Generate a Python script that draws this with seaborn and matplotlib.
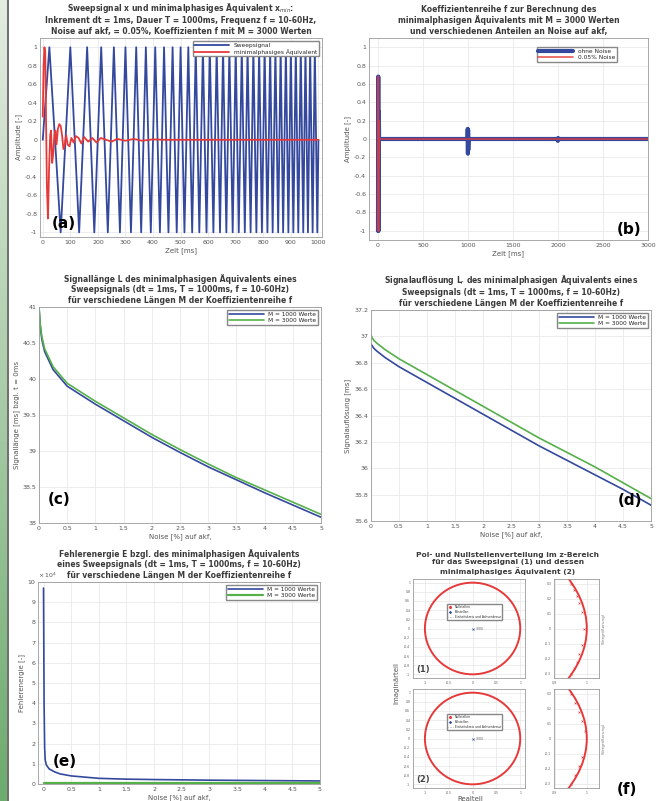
import matplotlib
matplotlib.use("Agg")
import numpy as np
import matplotlib.pyplot as plt
import matplotlib.patches as mpatches
from matplotlib.lines import Line2D
from matplotlib.ticker import FuncFormatter, MultipleLocator
import seaborn as sns

# (a) Sweepsignal: Zeitpunkte der Extrema und Amplituden
sweep_t = [0,
           24, 65, 100, 132, 161, 187, 212, 236, 258, 280,
           300, 320, 339, 357, 374, 392, 408, 425, 440, 456,
           471, 486, 500, 514, 528, 542, 555, 568, 581, 594,
           606, 619, 631, 643, 654, 666, 677, 689, 700, 711,
           722, 733, 743, 754, 764, 775, 785, 795, 805, 815,
           825, 834, 844, 854, 863, 872, 882, 891, 900, 909,
           918, 927, 936, 945, 953, 962, 970, 979, 987, 996,
           1000]
sweep_amp = [0] + [1, -1] * 35 + [0]

# (a) minimalphasiges Aequivalent
minph_t = [0, 3, 6, 9, 12, 15, 19, 23, 27, 30, 34, 38, 42, 46, 50, 55, 60, 65,
           70, 75, 80, 85, 90, 97, 104, 112, 120, 130, 140, 150, 165, 180, 195,
           210, 230, 250, 270, 300, 330, 360, 400, 450, 1000]
minph_amp = [0.25, 0.8, 1.0, 0.95, 0.2, -0.5, -0.85, -0.3, 0.05, 0.1, -0.25, -0.15,
             0.05, 0.1, -0.05, 0.12, 0.17, 0.15, 0.05, -0.1, -0.05, 0.05, -0.05,
             -0.07, 0.02, -0.03, 0.04, 0.02, -0.04, 0.03, -0.02, 0.02, -0.03, 0.02,
             0.0, -0.02, 0.01, -0.01, 0.01, -0.01, 0.005, 0.0, 0.0]

# (b) Koeffizientenreihe f
coef_t_blue = [0, 3, 6, 9, 12, 995, 997, 999, 1001, 1003, 1006, 1995, 1998, 2001, 2004, 3000]
coef_blue = [-1.0, 0.68, -1.0, 0.3, 0.0, 0.0, 0.11, -0.16, 0.1, -0.12, 0.0, 0.0, -0.02, 0.01, 0.0, 0.0]
coef_t_red = [0, 3, 6, 9, 12, 15, 3000]
coef_red = [-1.0, 0.68, -1.0, 0.2, -0.3, 0.0, 0.0]

# (c), (d) Signallaenge und Signalaufloesung
noise = [0, 0.02, 0.05, 0.1, 0.25, 0.5, 1, 1.5, 2, 2.5, 3, 3.5, 4, 4.5, 5]
L_1000 = [41.0, 40.75, 40.55, 40.38, 40.13, 39.9, 39.65, 39.42, 39.19, 38.98, 38.78, 38.6, 38.42, 38.25, 38.08]
L_3000 = [41.0, 40.78, 40.59, 40.42, 40.17, 39.94, 39.69, 39.46, 39.23, 39.02, 38.82, 38.63, 38.46, 38.29, 38.12]
Lr_1000 = [36.94, 36.93, 36.91, 36.89, 36.84, 36.77, 36.65, 36.53, 36.41, 36.29, 36.17, 36.06, 35.95, 35.84, 35.72]
Lr_3000 = [37.01, 36.99, 36.97, 36.95, 36.90, 36.83, 36.71, 36.59, 36.47, 36.35, 36.23, 36.12, 36.01, 35.89, 35.77]

# (e) Fehlerenergie (x 10^4)
noise_e = [0, 0.01, 0.02, 0.03, 0.05, 0.1, 0.2, 0.3, 0.5, 1, 1.5, 2, 3, 4, 5]
E_1000 = [9.7, 4.0, 1.8, 1.2, 0.95, 0.75, 0.6, 0.5, 0.4, 0.28, 0.24, 0.22, 0.19, 0.17, 0.15]
E_3000 = [0.04, 0.04, 0.04, 0.04, 0.04, 0.04, 0.04, 0.04, 0.04, 0.04, 0.04, 0.04, 0.04, 0.04, 0.04]

# (f) Nullstellen nahe z = 1 (Ausschnitt)
zero1_re = [0.952, 0.96, 0.968, 0.977, 0.985, 0.99, 0.985, 0.977, 0.968, 0.96, 0.952]
zero1_im = [0.3, 0.26, 0.22, 0.17, 0.11, 0.0, -0.11, -0.17, -0.22, -0.26, -0.3]
zero2_re = [0.95, 0.962, 0.975, 0.986, 0.993, 0.986, 0.975, 0.962, 0.95]
zero2_im = [0.3, 0.24, 0.18, 0.12, 0.05, -0.12, -0.18, -0.24, -0.3]

sns.set_theme(style="whitegrid")
plt.rcParams["font.family"] = ["DejaVu Sans"]

BLUE = "#34499e"
RED = "#e63a3a"
GREEN = "#55b04a"
TXT = "#3a3a3a"

fig = plt.figure(figsize=(6.65, 8.01), dpi=100)
fig.patch.set_facecolor("white")

# gruener Rand links
strip = fig.add_axes([0, 0, 7 / 665, 1])
strip.imshow(np.linspace(0, 1, 100).reshape(-1, 1), aspect="auto",
             cmap=matplotlib.colors.LinearSegmentedColormap.from_list("g", ["#e4ece0", "#6dab6f"]))
strip.set_axis_off()
fig.add_artist(Line2D([7.5 / 665, 7.5 / 665], [0, 1], color="#555555", lw=1.2))


def tick_fmt(v, p):
    v = round(v, 6)
    if v == 0:
        v = 0.0
    return f"{v:g}"


fmt = FuncFormatter(tick_fmt)


def style(ax, fs=4.5):
    ax.grid(True, color="#e6e6e6", lw=0.5)
    for s in ax.spines.values():
        s.set_color("#9a9a9a")
        s.set_linewidth(0.6)
    ax.tick_params(labelsize=fs, colors="#555555", length=2, direction="in", pad=2)
    ax.xaxis.set_major_formatter(fmt)
    ax.yaxis.set_major_formatter(fmt)


def title(ax, text):
    ax.set_title(text, fontsize=5.5, fontweight="bold", color=TXT, pad=3, linespacing=1.2)


def legend(ax, loc="upper right"):
    ax.legend(loc=loc, fontsize=4.2, frameon=True, fancybox=False, edgecolor="#888888",
              handlelength=6, borderpad=0.3, labelspacing=0.2, framealpha=1)


def label(ax, text, x, y, ha="left"):
    ax.text(x, y, text, transform=ax.transAxes, fontsize=11, fontweight="bold",
            ha=ha, va="bottom", color="black")


# (a)
ax = fig.add_axes([40 / 665, 1 - 237 / 801, 282 / 665, 199 / 801])
sns.lineplot(x=sweep_t, y=sweep_amp, ax=ax, color=BLUE, lw=1.3, estimator=None, sort=False, label="Sweepsignal")
sns.lineplot(x=minph_t, y=minph_amp, ax=ax, color=RED, lw=1.3, estimator=None, sort=False,
             label="minimalphasiges Äquivalent")
ax.set_xlim(-10, 1013)
ax.set_ylim(-1.05, 1.1)
ax.xaxis.set_major_locator(MultipleLocator(100))
ax.yaxis.set_major_locator(MultipleLocator(0.2))
style(ax)
ax.set_xlabel("Zeit [ms]", fontsize=5, color="#555555", labelpad=2)
ax.set_ylabel("Amplitude [-]", fontsize=5, color="#555555", labelpad=2)
title(ax, "Sweepsignal x und minimalphasiges Äquivalent x$_{min}$:\n"
          "Inkrement dt = 1ms, Dauer T = 1000ms, Frequenz f = 10-60Hz,\n"
          "Noise auf akf, = 0.05%, Koeffizienten f mit M = 3000 Werten")
legend(ax)
label(ax, "(a)", 0.04, 0.03)

# (b)
ax = fig.add_axes([369 / 665, 1 - 240 / 801, 279 / 665, 202 / 801])
sns.lineplot(x=coef_t_blue, y=coef_blue, ax=ax, color=BLUE, lw=3, estimator=None, sort=False, label="ohne Noise")
sns.lineplot(x=coef_t_red, y=coef_red, ax=ax, color=RED, lw=1.2, alpha=0.85, estimator=None, sort=False,
             label="0.05% Noise")
ax.set_xlim(-100, 3000)
ax.set_ylim(-1.1, 1.1)
ax.xaxis.set_major_locator(MultipleLocator(500))
ax.yaxis.set_major_locator(MultipleLocator(0.2))
style(ax)
ax.set_xlabel("Zeit [ms]", fontsize=5, color="#555555", labelpad=2)
ax.set_ylabel("Amplitude [-]", fontsize=5, color="#555555", labelpad=2)
title(ax, "Koeffizientenreihe f zur Berechnung des\n"
          "minimalphasigen Äquivalents mit M = 3000 Werten\n"
          "und verschiedenen Anteilen an Noise auf akf,")
ax.legend(loc="upper right", bbox_to_anchor=(0.9, 0.97), fontsize=4.2, frameon=True, fancybox=False,
          edgecolor="#888888", handlelength=6, borderpad=0.3, labelspacing=0.2, framealpha=1)
label(ax, "(b)", 0.975, 0.015, ha="right")

# (c)
ax = fig.add_axes([39 / 665, 1 - 523 / 801, 282 / 665, 216 / 801])
sns.lineplot(x=noise, y=L_1000, ax=ax, color=BLUE, lw=1.2, label="M = 1000 Werte")
sns.lineplot(x=noise, y=L_3000, ax=ax, color=GREEN, lw=1.2, label="M = 3000 Werte")
ax.set_xlim(0, 5)
ax.set_ylim(38, 41)
ax.xaxis.set_major_locator(MultipleLocator(0.5))
ax.yaxis.set_major_locator(MultipleLocator(0.5))
style(ax)
ax.set_xlabel("Noise [%] auf akf,", fontsize=5, color="#555555", labelpad=2)
ax.set_ylabel("Signallänge [ms] bzgl. t = 0ms", fontsize=5, color="#555555", labelpad=2)
title(ax, "Signallänge L des minimalphasigen Äquivalents eines\n"
          "Sweepsignals (dt = 1ms, T = 1000ms, f = 10-60Hz)\n"
          "für verschiedene Längen M der Koeffizientenreihe f")
legend(ax)
label(ax, "(c)", 0.03, 0.075)

# (d)
ax = fig.add_axes([371 / 665, 1 - 521 / 801, 280 / 665, 211 / 801])
sns.lineplot(x=noise, y=Lr_1000, ax=ax, color=BLUE, lw=1.2, label="M = 1000 Werte")
sns.lineplot(x=noise, y=Lr_3000, ax=ax, color=GREEN, lw=1.2, label="M = 3000 Werte")
ax.set_xlim(0, 5)
ax.set_ylim(35.6, 37.2)
ax.xaxis.set_major_locator(MultipleLocator(0.5))
ax.yaxis.set_major_locator(MultipleLocator(0.2))
style(ax)
ax.set_xlabel("Noise [%] auf akf,", fontsize=5, color="#555555", labelpad=2)
ax.set_ylabel("Signalauflösung [ms]", fontsize=5, color="#555555", labelpad=2)
title(ax, "Signalauflösung L$_r$ des minimalphasigen Äquivalents eines\n"
          "Sweepsignals (dt = 1ms, T = 1000ms, f = 10-60Hz)\n"
          "für verschiedene Längen M der Koeffizientenreihe f")
legend(ax)
label(ax, "(d)", 0.97, 0.06, ha="right")

# (e)
ax = fig.add_axes([38 / 665, 1 - 784 / 801, 282 / 665, 202 / 801])
sns.lineplot(x=noise_e, y=E_1000, ax=ax, color=BLUE, lw=1.2, label="M = 1000 Werte")
sns.lineplot(x=noise_e, y=E_3000, ax=ax, color=GREEN, lw=1.6, label="M = 3000 Werte")
ax.set_xlim(-0.1, 5)
ax.set_ylim(0, 10)
ax.xaxis.set_major_locator(MultipleLocator(0.5))
ax.yaxis.set_major_locator(MultipleLocator(1))
style(ax)
ax.set_xlabel("Noise [%] auf akf,", fontsize=5, color="#555555", labelpad=2)
ax.set_ylabel("Fehlerenergie [-]", fontsize=5, color="#555555", labelpad=2)
ax.text(0.0, 1.01, r"$\times\,10^4$", transform=ax.transAxes, fontsize=4.5, color="#555555",
        ha="left", va="bottom")
title(ax, "Fehlerenergie E bzgl. des minimalphasigen Äquivalents\n"
          "eines Sweepsignals (dt = 1ms, T = 1000ms, f = 10-60Hz)\n"
          "für verschiedene Längen M der Koeffizientenreihe f")
legend(ax)
label(ax, "(e)", 0.053, 0.075)

# (f) Pol-Nullstellen-Diagramme
fig.text(508 / 665, 1 - 575 / 801, "Pol- und Nullstellenverteilung im z-Bereich\n"
         "für das Sweepsignal (1) und dessen\nminimalphasiges Äquivalent (2)",
         ha="center", va="bottom", fontsize=5.4, fontweight="bold", color=TXT, linespacing=1.25)
fig.text(396 / 665, 1 - 683 / 801, "Imaginärteil", rotation=90, ha="center", va="center",
         fontsize=5, color="#555555")
fig.text(470 / 665, 0.002, "Realteil", ha="center", va="center", fontsize=5, color="#555555")

circle_rows = [(1 - 678 / 801, "(1)", zero1_re, zero1_im), (1 - 788 / 801, "(2)", zero2_re, zero2_im)]
for bottom, tag, zre, zim in circle_rows:
    axc = fig.add_axes([413 / 665, bottom, 112 / 665, 99 / 801])
    axc.add_patch(mpatches.Circle((0, 0), 1, fill=False, ec=RED, lw=1.4))
    sns.scatterplot(x=[0], y=[0], ax=axc, marker="x", color=BLUE, s=3, linewidth=0.4)
    axc.text(0.06, -0.02, "3000", fontsize=2.2, color="#555555", va="center")
    axc.set_xlim(-1.25, 1.1)
    axc.set_ylim(-1.08, 1.08)
    axc.xaxis.set_major_locator(MultipleLocator(0.5))
    axc.yaxis.set_major_locator(MultipleLocator(0.2))
    style(axc, fs=2.2)
    handles = [Line2D([], [], ls="", marker="o", ms=1.2, color=RED),
               Line2D([], [], ls="", marker="x", ms=1.2, color=BLUE),
               Line2D([], [], ls=":", lw=0.4, color="#777777")]
    axc.legend(handles, ["Nullstellen", "Polstellen", "Einheitskreis und Achsenkreuz"],
               loc="center", bbox_to_anchor=(0.55, 0.67), fontsize=2.2, frameon=True, fancybox=False,
               edgecolor="#888888", borderpad=0.4, labelspacing=0.3, framealpha=1, handlelength=1.5)
    axc.text(0.03, 0.04, tag, transform=axc.transAxes, fontsize=6, fontweight="bold",
             color="#444444", va="bottom")

    axz = fig.add_axes([554 / 665, bottom, 45 / 665, 99 / 801])
    axz.add_patch(mpatches.Circle((0, 0), 1, fill=False, ec=RED, lw=1.4))
    sns.scatterplot(x=zre, y=zim, ax=axz, marker="x", color=RED, s=2, linewidth=0.4)
    axz.set_xlim(0.898, 1.038)
    axz.set_ylim(-0.33, 0.33)
    axz.xaxis.set_major_locator(MultipleLocator(0.1))
    axz.yaxis.set_major_locator(MultipleLocator(0.1))
    style(axz, fs=2.2)
    axz.yaxis.set_label_position("right")
    axz.set_ylabel("(Vergrößerung)", fontsize=3, color="#777777", labelpad=2)

label_ax = fig.add_axes([0, 0, 1, 1], facecolor="none")
label_ax.set_axis_off()
label_ax.text(617 / 665, 4 / 801, "(f)", fontsize=11, fontweight="bold", color="black",
              ha="left", va="bottom")

fig.savefig("out.png", dpi=100)
